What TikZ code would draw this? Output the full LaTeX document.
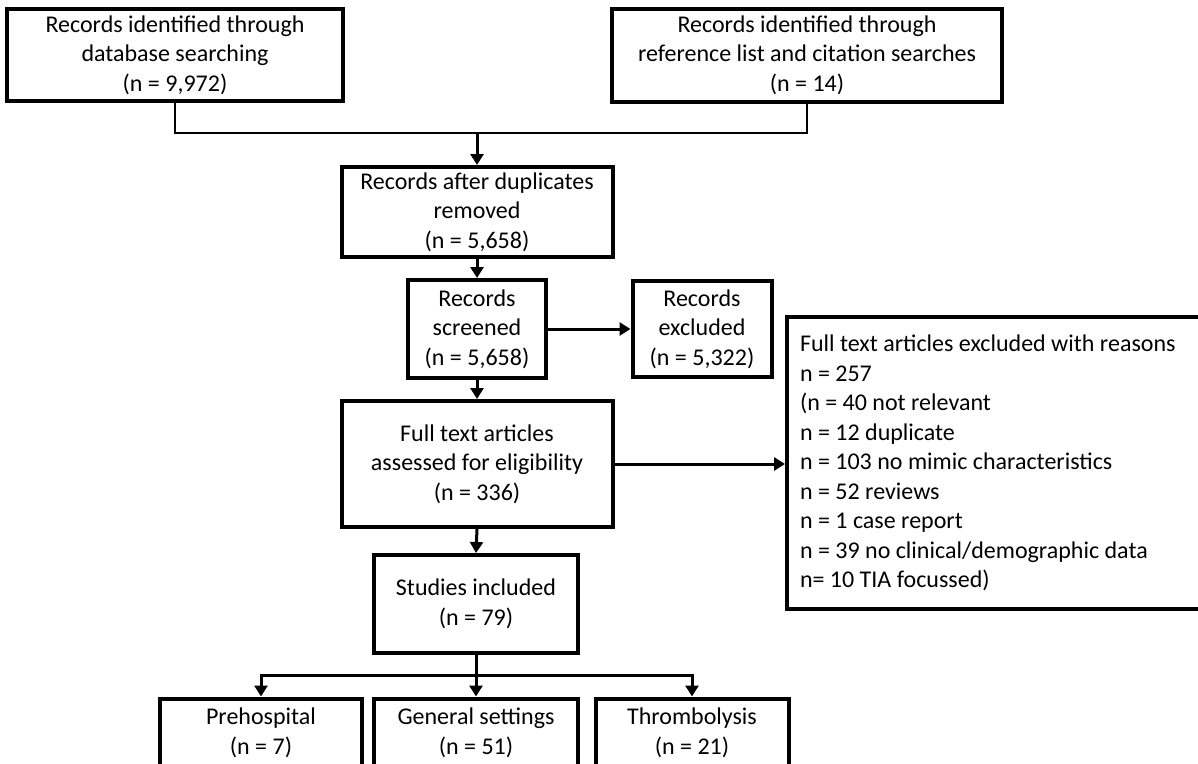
\documentclass[tikz,border=0pt]{standalone}
\usepackage{fontspec}
\setmainfont{Carlito}
\usetikzlibrary{arrows.meta}

\begin{document}
\begin{tikzpicture}[x=1pt, y=-1pt,
    box/.style={draw, line width=4pt, align=flush center, inner sep=0pt,
        font=\fontsize{24}{29.5}\selectfont},
    link/.style={line width=2pt},
    flow/.style={line width=3pt, -{Triangle[length=11pt,width=13pt]}}]
    \useasboundingbox (0,0) rectangle (1198,763);
    \clip (0,0) rectangle (1198,763);

    \node[box, minimum width=336pt, minimum height=92pt] (dbsearch) at (175,55)
        {Records identified through\\database searching\\(n = 9,972)};
    \node[box, minimum width=390pt, minimum height=93pt] (refsearch) at (807,55)
        {Records identified through\\reference list and citation searches\\(n = 14)};
    \node[box, minimum width=271pt, minimum height=90pt] (dedup) at (477,212)
        {Records after duplicates\\removed\\(n = 5,658)};
    \node[box, minimum width=138pt, minimum height=98pt] (screened) at (477,329)
        {Records\\screened\\(n = 5,658)};
    \node[box, minimum width=139pt, minimum height=96pt] (excluded) at (702,329)
        {Records\\excluded\\(n = 5,322)};
    \node[box, minimum width=271pt, minimum height=126pt] (fulltext) at (477,464)
        {Full text articles\\assessed for eligibility\\(n = 336)};
    \node[box, align=flush left, anchor=west, text width=397pt, inner xsep=13pt,
        minimum height=292pt] (reasons) at (785,463)
        {Full text articles excluded with reasons\\n = 257\\(n = 40 not relevant\\n = 12 duplicate\\n = 103 no mimic characteristics\\n = 52 reviews\\n = 1 case report\\n = 39 no clinical/demographic data\\n= 10 TIA focussed)};
    \node[box, minimum width=204pt, minimum height=98pt] (included) at (476,604)
        {Studies included\\(n = 79)};
    \node[box, minimum width=202pt, minimum height=69pt] (prehosp) at (261,733)
        {Prehospital\\(n = 7)};
    \node[box, minimum width=204pt, minimum height=69pt] (general) at (476,733)
        {General settings\\(n = 51)};
    \node[box, minimum width=193pt, minimum height=69pt] (thromb) at (692,733)
        {Thrombolysis\\(n = 21)};

    \coordinate (merge) at (477,133);
    \coordinate (split) at (476,675);

    \draw[link] (dbsearch.south) |- (merge) -| (refsearch.south);
    \draw[flow] (merge) -- (dedup.north);
    \draw[flow] (dedup.south) -- (screened.north);
    \draw[flow] (screened.east) -- (excluded.west);
    \draw[flow] (screened.south) -- (fulltext.north);
    \draw[flow] (fulltext.east) -- (fulltext.east -| reasons.west);
    \draw[flow] (fulltext.south) -- (included.north);
    \draw[line width=3pt] (included.south) -- (split);
    \draw[flow] (split) -| (prehosp.north);
    \draw[flow] (split) -- (general.north);
    \draw[flow] (split) -| (thromb.north);
\end{tikzpicture}
\end{document}
